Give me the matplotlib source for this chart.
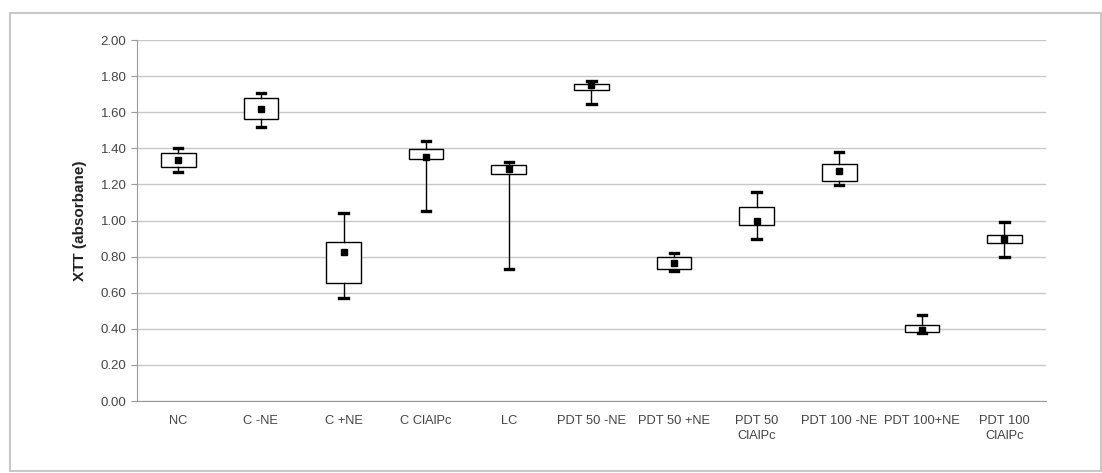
import matplotlib.pyplot as plt
from matplotlib.patches import Rectangle

plt.rcParams['font.family'] = ['Liberation Sans', 'DejaVu Sans']

groups = ['NC', 'C -NE', 'C +NE', 'C ClAlPc', 'LC', 'PDT 50 -NE', 'PDT 50 +NE',
          'PDT 50\nClAlPc', 'PDT 100 -NE', 'PDT 100+NE', 'PDT 100\nClAlPc']
whislo = [1.267, 1.518, 0.572, 1.053, 0.731, 1.645, 0.722, 0.896, 1.195, 0.375, 0.800]
q1 = [1.298, 1.560, 0.655, 1.341, 1.260, 1.723, 0.733, 0.975, 1.221, 0.384, 0.875]
mid = [1.335, 1.616, 0.827, 1.353, 1.285, 1.750, 0.766, 0.999, 1.276, 0.393, 0.896]
q3 = [1.372, 1.680, 0.879, 1.398, 1.306, 1.756, 0.798, 1.075, 1.313, 0.419, 0.920]
whishi = [1.403, 1.705, 1.040, 1.440, 1.324, 1.775, 0.822, 1.156, 1.381, 0.476, 0.992]

stats = []
for i in range(len(groups)):
    stats.append({'label': groups[i], 'whislo': whislo[i], 'q1': q1[i], 'med': mid[i],
                  'mean': mid[i], 'q3': q3[i], 'whishi': whishi[i], 'fliers': []})

fig = plt.figure(figsize=(11.02, 4.73), dpi=100)
ax = fig.add_axes([0.1243, 0.1522, 0.8247, 0.7632])

fig.patches.append(Rectangle((0.009, 0.005), 0.99, 0.967, transform=fig.transFigure,
                             fill=False, edgecolor='#c8c8c8', linewidth=1.5))

ax.bxp(stats, widths=0.42, showmeans=True, patch_artist=True,
       boxprops=dict(facecolor='white', edgecolor='black', linewidth=1),
       whiskerprops=dict(color='black', linewidth=1),
       capprops=dict(color='black', linewidth=2.4),
       capwidths=0.1,
       medianprops=dict(linewidth=0),
       meanprops=dict(marker='s', markerfacecolor='black', markeredgecolor='black',
                      markersize=5))

ax.set_ylim(0, 2.0)
ax.set_xlim(0.5, len(groups) + 0.5)
ax.set_yticks([0, 0.2, 0.4, 0.6, 0.8, 1.0, 1.2, 1.4, 1.6, 1.8, 2.0])
ax.set_yticklabels(['%.2f' % v for v in ax.get_yticks()])
ax.yaxis.grid(True, color='#c8c8c8', linewidth=1)
ax.set_axisbelow(True)
for s in ['top', 'right']:
    ax.spines[s].set_visible(False)
ax.spines['left'].set_color('#999999')
ax.spines['bottom'].set_color('#999999')
ax.tick_params(axis='y', colors='#999999', labelcolor='#444444', labelsize=9.5, length=4)
ax.tick_params(axis='x', length=0, labelcolor='#444444', labelsize=9.3, pad=10)
for t in ax.get_xticklabels():
    t.set_linespacing(1.35)
ax.set_ylabel('XTT (absorbane)', fontsize=11, fontweight='bold', labelpad=10, color='#222222')

plt.savefig('out.png', dpi=100)
